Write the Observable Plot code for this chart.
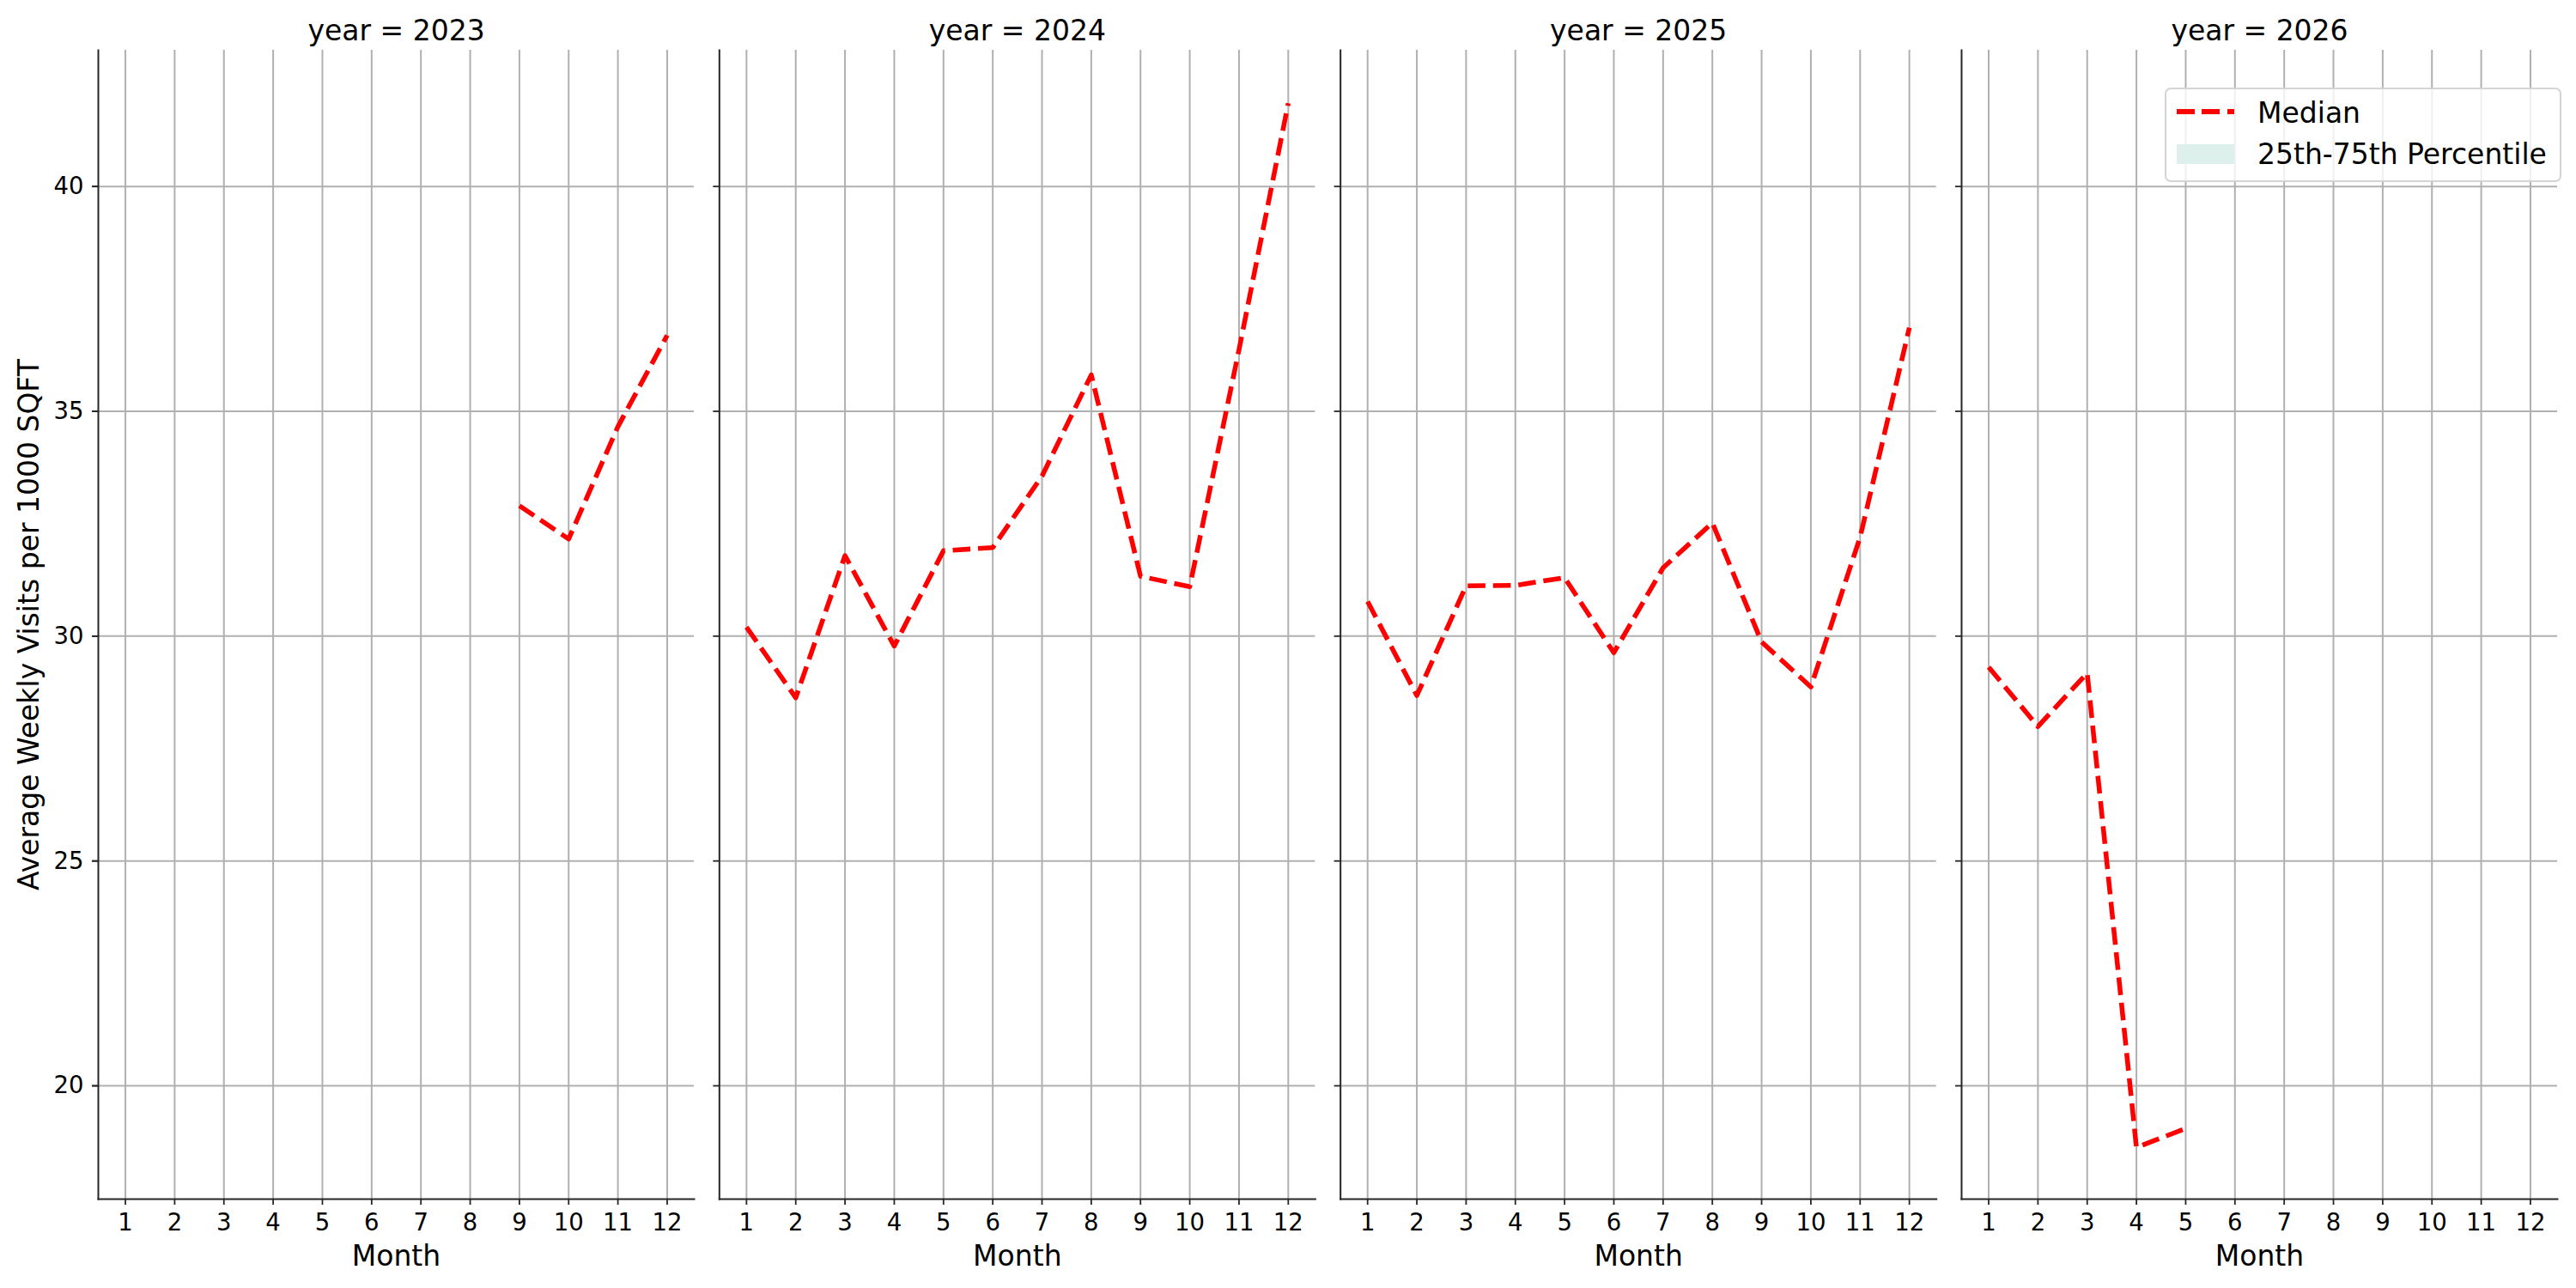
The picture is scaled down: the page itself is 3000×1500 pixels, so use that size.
<!DOCTYPE html>
<html>
<head>
<meta charset="utf-8">
<script src="https://cdn.jsdelivr.net/npm/d3@7"></script>
<script src="https://cdn.jsdelivr.net/npm/@observablehq/plot@0.6"></script>
<style>
  html, body { margin: 0; padding: 0; background: #fff; }
  #wrap { position: relative; width: 3000px; height: 1500px; font-family: "DejaVu Sans", sans-serif; }
  #wrap svg { position: absolute; left: 0; top: 0; }
  .legend-box { position: absolute; box-sizing: border-box; left: 2521px; top: 102px; width: 462px; height: 110px;
    border: 2px solid rgba(204,204,204,0.85); border-radius: 7px; background: rgba(255,255,255,0.8); }
  .legend-line { position: absolute; left: 2535px; top: 127px; width: 67px; height: 5.6px;
    background: repeating-linear-gradient(to right, #ff0000 0 20.6px, transparent 20.6px 29.5px); }
  .legend-patch { position: absolute; left: 2535px; top: 168px; width: 67px; height: 22.5px; background: #ddf0eb; }
  .legend-text { position: absolute; left: 2629px; font-size: 33px; line-height: 33px; color: #000; white-space: nowrap; }
</style>
</head>
<body>
<div id="wrap"></div>
<script>
// ---- data ----
const years = [2023, 2024, 2025, 2026];
const months = [1, 2, 3, 4, 5, 6, 7, 8, 9, 10, 11, 12];
const yTicks = [20, 25, 30, 35, 40];

const months2023 = [9, 10, 11, 12];
const median2023 = [32.90, 32.16, 34.66, 36.69];

const months2024 = [1, 2, 3, 4, 5, 6, 7, 8, 9, 10, 11, 12];
const median2024 = [30.20, 28.63, 31.79, 29.78, 31.90, 31.97, 33.56, 35.81, 31.33, 31.10, 36.37, 41.85];

const months2025 = [1, 2, 3, 4, 5, 6, 7, 8, 9, 10, 11, 12];
const median2025 = [30.77, 28.68, 31.12, 31.13, 31.30, 29.63, 31.52, 32.52, 29.87, 28.87, 32.20, 36.86];

const months2026 = [1, 2, 3, 4, 5];
const median2026 = [29.31, 27.99, 29.18, 18.63, 19.05];

const yLabel = "Average Weekly Visits per 1000 SQFT";
const xLabel = "Month";
const legendLabels = ["Median", "25th-75th Percentile"];

// ---- build table ----
const series = [
  [2023, months2023, median2023],
  [2024, months2024, median2024],
  [2025, months2025, median2025],
  [2026, months2026, median2026]
];
const rows = series.flatMap(([year, ms, vs]) => ms.map((m, i) => ({year, month: m, value: vs[i]})));

const spine = "#262626";
const chart = Plot.plot({
  width: 3000,
  height: 1500,
  marginLeft: 114,
  marginRight: 22,
  marginTop: 58,
  marginBottom: 104,
  style: {fontFamily: "DejaVu Sans, sans-serif", fontSize: "27.5px", background: "transparent", color: "#000", overflow: "visible"},
  fx: {domain: years, paddingInner: 0.0405, paddingOuter: 0, axis: null, round: false},
  x: {domain: [0.45, 12.55]},
  y: {domain: [17.48, 43.03]},
  marks: [
    Plot.gridX(months, {stroke: "#b0b0b0", strokeOpacity: 1, strokeWidth: 2}),
    Plot.gridY(yTicks, {stroke: "#b0b0b0", strokeOpacity: 1, strokeWidth: 2}),
    Plot.line(rows, {x: "month", y: "value", fx: "year", stroke: "#ff0000", strokeWidth: 5.56,
      strokeDasharray: "20.6 8.9", strokeLinecap: "butt", strokeLinejoin: "round"}),
    Plot.frame({anchor: "left", stroke: spine, strokeWidth: 2}),
    Plot.frame({anchor: "bottom", stroke: spine, strokeWidth: 2}),
    Plot.axisX(months, {anchor: "bottom", tickSize: 7, tickPadding: 10, fontSize: 27.5, stroke: spine, strokeWidth: 1.8, tickFormat: d => String(d), label: null}),
    Plot.axisY(yTicks, {anchor: "left", tickSize: 7, tickPadding: 10, fontSize: 27.5, stroke: spine, strokeWidth: 1.8, tickFormat: d => String(d), label: null}),
    Plot.axisY(yTicks, {anchor: "left", tickSize: 7, tickFormat: () => "", stroke: spine, strokeWidth: 1.8, label: null, facetAnchor: null}),
    Plot.text(years, {fx: d => d, text: d => `year = ${d}`, frameAnchor: "top", lineAnchor: "bottom", dy: -11.3, fontSize: 33}),
    Plot.text([xLabel], {frameAnchor: "bottom", lineAnchor: "bottom", dy: 77.3, fontSize: 33}),
    Plot.text([yLabel], {frameAnchor: "left", textAnchor: "middle", rotate: -90, lineAnchor: "bottom", dx: -70, fontSize: 33, facetAnchor: "left"})
  ]
});
const wrap = document.getElementById("wrap");
wrap.appendChild(chart);

// ---- legend (inside last panel, upper right) ----
const box = document.createElement("div"); box.className = "legend-box"; wrap.appendChild(box);
const ln = document.createElement("div"); ln.className = "legend-line"; wrap.appendChild(ln);
const pt = document.createElement("div"); pt.className = "legend-patch"; wrap.appendChild(pt);
const tops = [114.8, 163.1];
legendLabels.forEach((t, i) => {
  const s = document.createElement("div");
  s.className = "legend-text";
  s.style.top = tops[i] + "px";
  s.textContent = t;
  wrap.appendChild(s);
});
</script>
</body>
</html>
